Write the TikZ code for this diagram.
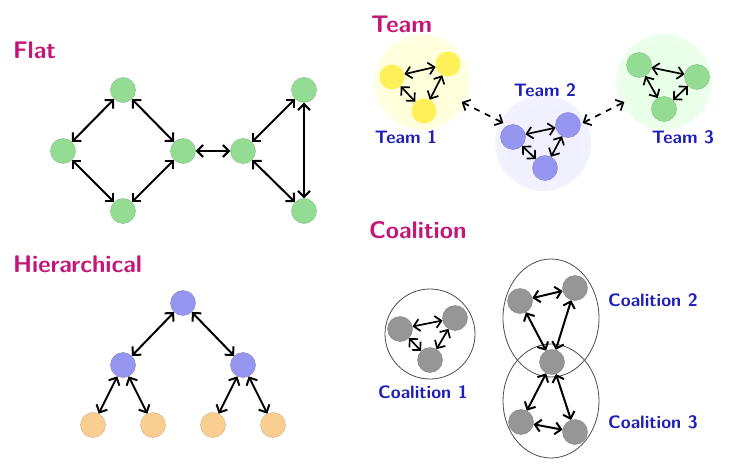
\documentclass[tikz,border=0pt]{standalone}
\usepackage{tikz}
\usetikzlibrary{arrows.meta}
\definecolor{headcol}{RGB}{196,22,120}
\definecolor{labcol}{RGB}{30,30,185}
\definecolor{agreen}{RGB}{148,220,148}
\definecolor{ablue}{RGB}{150,150,240}
\definecolor{ayellow}{RGB}{255,240,90}
\definecolor{aorange}{RGB}{250,205,145}
\definecolor{agray}{RGB}{150,150,150}
\colorlet{halocol}{white}
\pgfdeclareradialshading[halocol]{haloshade}{\pgfpoint{0bp}{0bp}}{color(0bp)=(halocol); color(18bp)=(halocol); color(50bp)=(white)}
\tikzset{
  agent/.style={circle, minimum size=12.5pt, inner sep=0pt, fill=#1, draw=#1!85!black, line width=0.2pt},
  link/.style={<->, line width=1pt},
  halo/.style={circle, minimum size=48pt, inner sep=0pt, halotint=#1, shading=haloshade},
  halotint/.code={\colorlet{halocol}{#1}},
  head/.style={anchor=west, text=headcol, font=\sffamily\bfseries\large},
  grouplabel/.style={text=labcol, font=\sffamily\bfseries\small}
}
\begin{document}
\begin{tikzpicture}[x=0.5pt, y=-0.5pt, >={Straight Barb[length=3pt,width=6pt]}]
  \useasboundingbox (0,0) rectangle (755,465);
  % flat
  \node[head] (flat) at (6,50){Flat};
  \node[agent=agreen] (f1) at (123,90){};
  \node[agent=agreen] (f2) at (63,151){};
  \node[agent=agreen] (f3) at (183,151){};
  \node[agent=agreen] (f4) at (123,211){};
  \node[agent=agreen] (f5) at (243,151){};
  \node[agent=agreen] (f6) at (304,90){};
  \node[agent=agreen] (f7) at (304,211){};
  \draw[link] (f1)--(f2);
  \draw[link] (f1)--(f3);
  \draw[link] (f2)--(f4);
  \draw[link] (f4)--(f3);
  \draw[link] (f3)--(f5);
  \draw[link] (f5)--(f6);
  \draw[link] (f5)--(f7);
  \draw[link] (f6)--(f7);
  % hierarchical
  \node[head] (hier) at (6,264){Hierarchical};
  \node[agent=ablue] (h0) at (183,303){};
  \node[agent=ablue] (h1) at (123,365){};
  \node[agent=ablue] (h2) at (243,365){};
  \node[agent=aorange] (h3) at (93,425){};
  \node[agent=aorange] (h4) at (153,425){};
  \node[agent=aorange] (h5) at (213,425){};
  \node[agent=aorange] (h6) at (273,425){};
  \draw[link] (h0)--(h1);
  \draw[link] (h0)--(h2);
  \draw[link] (h1)--(h3);
  \draw[link] (h1)--(h4);
  \draw[link] (h2)--(h5);
  \draw[link] (h2)--(h6);
  % team
  \node[halo=yellow!14] (tA) at (422,82){};
  \node[halo=blue!6] (tB) at (543,143){};
  \node[halo=green!9] (tC) at (664,82){};
  \node[head] (team) at (364,24){Team};
  \node[agent=ayellow, draw=none] (a1) at (392,77){};
  \node[agent=ayellow, draw=none] (a2) at (448,64){};
  \node[agent=ayellow, draw=none] (a3) at (424,111){};
  \node[agent=ablue] (b1) at (513,137){};
  \node[agent=ablue] (b2) at (568,125){};
  \node[agent=ablue] (b3) at (545,168){};
  \node[agent=agreen] (c1) at (639,65){};
  \node[agent=agreen] (c2) at (697,77){};
  \node[agent=agreen] (c3) at (664,109){};
  \draw[link, line width=0.85pt] (a1)--(a2);
  \draw[link, line width=0.85pt] (a1)--(a3);
  \draw[link, line width=0.85pt] (a2)--(a3);
  \draw[link, line width=0.85pt] (b1)--(b2);
  \draw[link, line width=0.85pt] (b1)--(b3);
  \draw[link, line width=0.85pt] (b2)--(b3);
  \draw[link, line width=0.85pt] (c1)--(c2);
  \draw[link, line width=0.85pt] (c1)--(c3);
  \draw[link, line width=0.85pt] (c2)--(c3);
  \draw[link, line width=0.85pt, dashed, shorten <=-2pt, shorten >=-2pt] (tA)--(tB);
  \draw[link, line width=0.85pt, dashed, shorten <=-2pt, shorten >=-2pt] (tB)--(tC);
  \node[grouplabel] (lA) at (406,137){Team 1};
  \node[grouplabel] (lB) at (545,90){Team 2};
  \node[grouplabel] (lC) at (683,137){Team 3};
  % coalition
  \node[head] (coal) at (362,230){Coalition};
  \draw[black!70, line width=0.4pt] (430,334) circle [radius=22.5pt];
  \draw[black!70, line width=0.4pt] (551,318) ellipse [x radius=24pt, y radius=29.5pt];
  \draw[black!70, line width=0.4pt] (551,401) ellipse [x radius=24pt, y radius=28.5pt];
  \node[agent=agray] (g1) at (400,329){};
  \node[agent=agray] (g2) at (455,318){};
  \node[agent=agray] (g3) at (430,360){};
  \node[agent=agray] (g4) at (520,301){};
  \node[agent=agray] (g5) at (575,288){};
  \node[agent=agray] (g6) at (552,362){};
  \node[agent=agray] (g7) at (521,422){};
  \node[agent=agray] (g8) at (575,432){};
  \draw[link, line width=0.85pt] (g1)--(g2);
  \draw[link, line width=0.85pt] (g1)--(g3);
  \draw[link, line width=0.85pt] (g2)--(g3);
  \draw[link] (g4)--(g5);
  \draw[link] (g4)--(g6);
  \draw[link] (g5)--(g6);
  \draw[link] (g6)--(g7);
  \draw[link] (g6)--(g8);
  \draw[link] (g7)--(g8);
  \node[grouplabel] (l1) at (423,392){Coalition 1};
  \node[grouplabel] (l2) at (653,300){Coalition 2};
  \node[grouplabel] (l3) at (653,422){Coalition 3};
\end{tikzpicture}
\end{document}
